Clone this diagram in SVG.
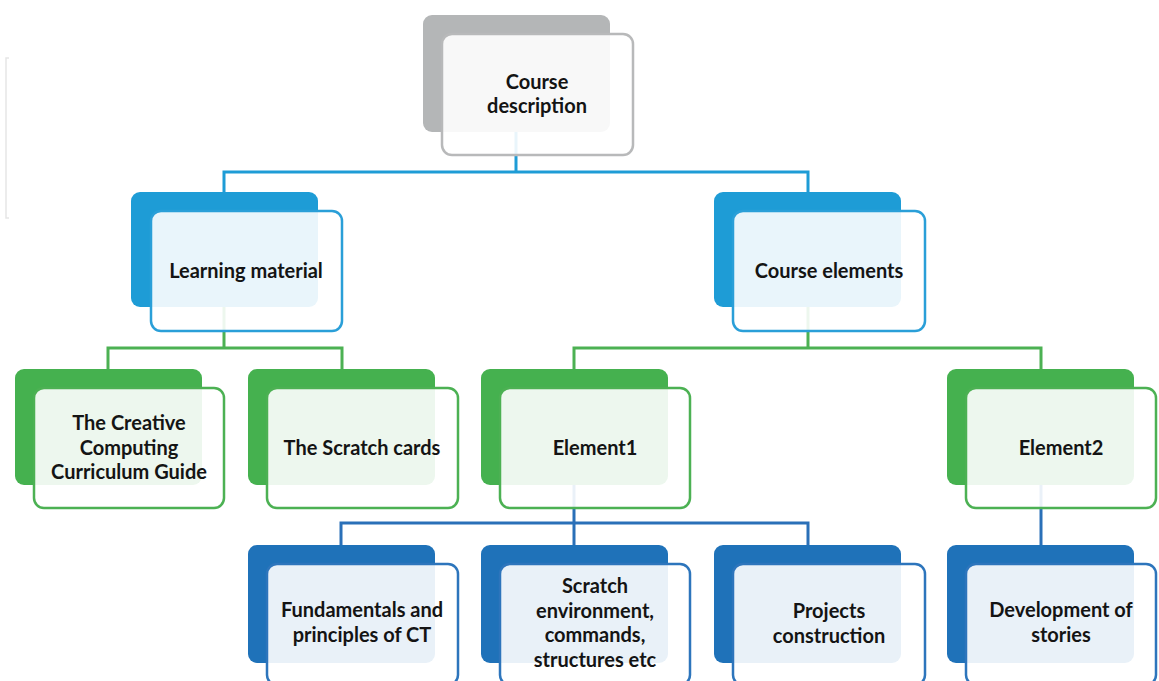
<svg xmlns="http://www.w3.org/2000/svg" width="1159" height="681" viewBox="0 0 1159 681">
<style>
.bg{fill:#ffffff}
.t{font-family:Lato,"Liberation Sans",sans-serif;font-size:20px;font-weight:700;fill:#141414;text-anchor:middle}
.front{fill:#ffffff;fill-opacity:0.9;stroke-width:2.5}
.gB{fill:#b4b6b7}.gF{stroke:#b8b9ba}
.cB{fill:#1e9cd6}.cF{stroke:#2a9fd8}
.nB{fill:#45b14f}.nF{stroke:#4cb153}
.dB{fill:#1f72b9}.dF{stroke:#2d75bc}
.c{fill:none;stroke-width:3}
.c1{stroke:#1e9cd6}.c2{stroke:#4cb153}.c3{stroke:#2a70b8}
</style>
<rect class="bg" x="0" y="0" width="1159" height="681"/>
<path d="M9,58 H6 V218 H9" fill="none" stroke="#e6e6e6" stroke-width="1.5"/>
<g id="connectors">
<path class="c c1" d="M516,132 V172 M224,192 V172 H808 V192"/>
<path class="c c2" d="M224,307 V348 M108,369 V348 H342 V369"/>
<path class="c c2" d="M808,307 V348 M574,369 V348 H1041 V369"/>
<path class="c c3" d="M574,485 V545 M341,545 V523 H808 V545"/>
<path class="c c3" d="M1041,485 V545"/>
</g>
<g id="course-description">
<rect class="gB" x="423" y="15" width="187" height="117" rx="9"/>
<rect class="front gF" x="442" y="34" width="191" height="121" rx="10"/>
<text class="t" x="537" y="89">Course</text>
<text class="t" x="537" y="113">description</text>
</g>
<g id="learning-material">
<rect class="cB" x="131" y="192" width="187" height="115" rx="9"/>
<rect class="front cF" x="151" y="211" width="191" height="120" rx="10"/>
<text class="t" x="246" y="278">Learning material</text>
</g>
<g id="course-elements">
<rect class="cB" x="714" y="192" width="187" height="115" rx="9"/>
<rect class="front cF" x="733" y="211" width="192" height="120" rx="10"/>
<text class="t" x="829" y="278">Course elements</text>
</g>
<g id="creative-computing">
<rect class="nB" x="15" y="369" width="187" height="116" rx="9"/>
<rect class="front nF" x="34" y="388" width="190" height="120" rx="10"/>
<text class="t" x="129" y="430">The Creative</text>
<text class="t" x="129" y="455">Computing</text>
<text class="t" x="129" y="479">Curriculum Guide</text>
</g>
<g id="scratch-cards">
<rect class="nB" x="248" y="369" width="187" height="116" rx="9"/>
<rect class="front nF" x="267" y="388" width="191" height="120" rx="10"/>
<text class="t" x="362" y="455">The Scratch cards</text>
</g>
<g id="element1">
<rect class="nB" x="481" y="369" width="187" height="116" rx="9"/>
<rect class="front nF" x="500" y="388" width="190" height="120" rx="10"/>
<text class="t" x="595" y="455">Element1</text>
</g>
<g id="element2">
<rect class="nB" x="947" y="369" width="187" height="116" rx="9"/>
<rect class="front nF" x="966" y="388" width="190" height="120" rx="10"/>
<text class="t" x="1061" y="455">Element2</text>
</g>
<g id="fundamentals">
<rect class="dB" x="248" y="545" width="187" height="118" rx="9"/>
<rect class="front dF" x="267" y="564" width="191" height="121" rx="10"/>
<text class="t" x="362" y="617">Fundamentals and</text>
<text class="t" x="362" y="642">principles of CT</text>
</g>
<g id="scratch-environment">
<rect class="dB" x="481" y="545" width="187" height="118" rx="9"/>
<rect class="front dF" x="500" y="564" width="190" height="121" rx="10"/>
<text class="t" x="595" y="593">Scratch</text>
<text class="t" x="595" y="618">environment,</text>
<text class="t" x="595" y="642">commands,</text>
<text class="t" x="595" y="667">structures etc</text>
</g>
<g id="projects-construction">
<rect class="dB" x="714" y="545" width="187" height="118" rx="9"/>
<rect class="front dF" x="733" y="564" width="192" height="121" rx="10"/>
<text class="t" x="829" y="618">Projects</text>
<text class="t" x="829" y="643">construction</text>
</g>
<g id="development-of-stories">
<rect class="dB" x="947" y="545" width="187" height="118" rx="9"/>
<rect class="front dF" x="966" y="564" width="190" height="121" rx="10"/>
<text class="t" x="1061" y="617">Development of</text>
<text class="t" x="1061" y="642">stories</text>
</g>
</svg>
